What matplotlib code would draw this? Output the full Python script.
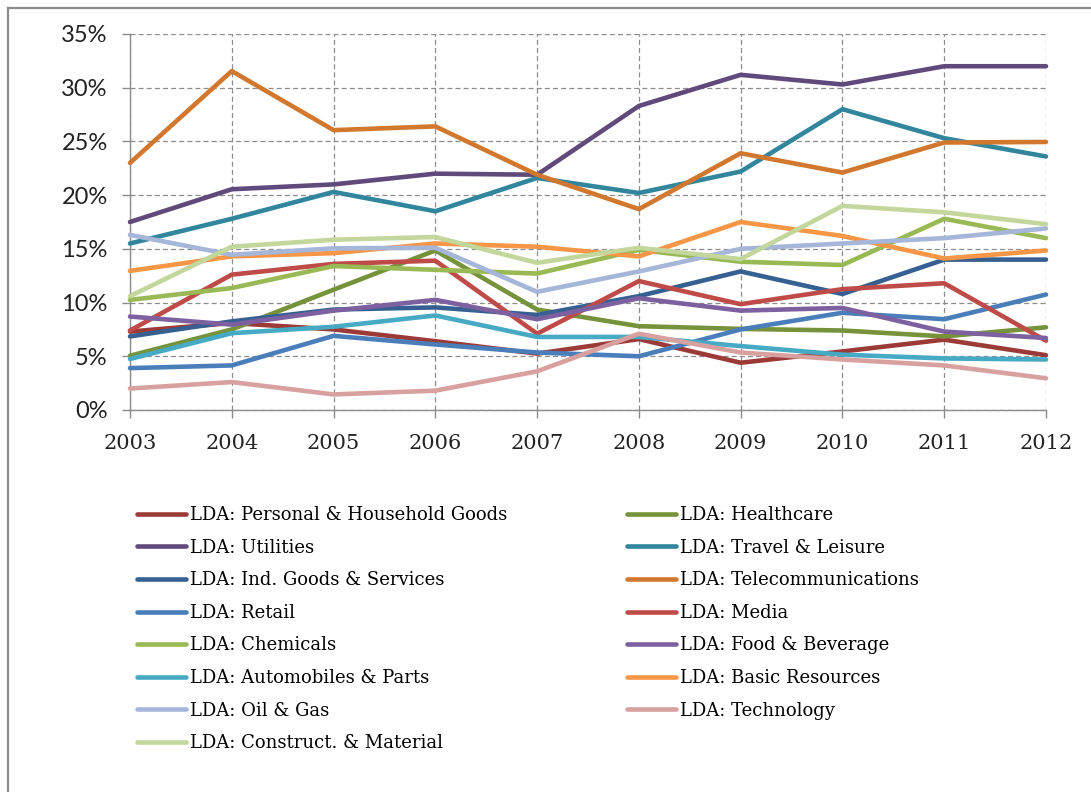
import matplotlib.pyplot as plt
from matplotlib.lines import Line2D
from matplotlib.ticker import PercentFormatter

years = [2003, 2004, 2005, 2006, 2007, 2008, 2009, 2010, 2011, 2012]

# LDA shares per sector (%)
personal_household = [7.3, 8.1, 7.5, 6.4, 5.25, 6.6, 4.4, 5.45, 6.55, 5.1]
healthcare = [5.05, 7.5, 11.2, 14.85, 9.35, 7.8, 7.55, 7.4, 6.85, 7.7]
utilities = [17.5, 20.55, 21.0, 22.0, 21.9, 28.3, 31.2, 30.3, 32.0, 32.0]
travel_leisure = [15.5, 17.8, 20.3, 18.5, 21.6, 20.2, 22.2, 28.0, 25.3, 23.6]
ind_goods = [6.85, 8.25, 9.35, 9.55, 8.85, 10.6, 12.9, 10.8, 14.0, 14.0]
telecom = [23.0, 31.55, 26.05, 26.4, 21.9, 18.7, 23.9, 22.1, 24.9, 24.95]
retail = [3.9, 4.15, 6.9, 6.1, 5.35, 5.0, 7.5, 9.05, 8.45, 10.75]
media = [7.4, 12.6, 13.6, 13.9, 7.1, 12.0, 9.85, 11.25, 11.8, 6.45]
chemicals = [10.25, 11.35, 13.4, 13.05, 12.7, 14.9, 13.8, 13.5, 17.8, 16.0]
food_beverage = [8.7, 7.95, 9.25, 10.25, 8.45, 10.4, 9.25, 9.5, 7.3, 6.7]
automobiles = [4.75, 7.15, 7.75, 8.8, 6.8, 6.8, 5.95, 5.15, 4.8, 4.7]
basic_resources = [12.95, 14.3, 14.6, 15.5, 15.2, 14.3, 17.5, 16.2, 14.1, 14.85]
oil_gas = [16.3, 14.45, 15.05, 15.1, 11.0, 12.9, 15.0, 15.5, 16.0, 16.9]
technology = [2.0, 2.6, 1.45, 1.8, 3.6, 7.1, 5.35, 4.7, 4.15, 2.95]
construct_material = [10.6, 15.2, 15.85, 16.1, 13.7, 15.1, 14.05, 19.0, 18.4, 17.3]

series = [
    ('LDA: Personal & Household Goods', personal_household, '#9b3a37'),
    ('LDA: Healthcare', healthcare, '#76933c'),
    ('LDA: Utilities', utilities, '#604a7b'),
    ('LDA: Travel & Leisure', travel_leisure, '#31859c'),
    ('LDA: Ind. Goods & Services', ind_goods, '#376092'),
    ('LDA: Telecommunications', telecom, '#d2782e'),
    ('LDA: Retail', retail, '#4a7ebb'),
    ('LDA: Media', media, '#be4b48'),
    ('LDA: Chemicals', chemicals, '#98b954'),
    ('LDA: Food & Beverage', food_beverage, '#7d60a0'),
    ('LDA: Automobiles & Parts', automobiles, '#46aac5'),
    ('LDA: Basic Resources', basic_resources, '#f79646'),
    ('LDA: Oil & Gas', oil_gas, '#a5b6d9'),
    ('LDA: Technology', technology, '#d9a0a0'),
    ('LDA: Construct. & Material', construct_material, '#c3d69b'),
]

fig = plt.figure(figsize=(10.91, 7.92), dpi=100)
ax = fig.add_axes([130 / 1091, 1 - 410 / 792, 916 / 1091, 376 / 792])

handles = []
for label, values, color in series:
    line, = ax.plot(years, values, color=color, lw=3.3, label=label,
                    solid_capstyle='round', clip_on=False, zorder=3)
    handles.append(line)

ax.set_xlim(2003, 2012)
ax.set_ylim(0, 35)
ax.set_xticks(years)
ax.set_yticks(range(0, 36, 5))
ax.yaxis.set_major_formatter(PercentFormatter(decimals=0))

ax.grid(True, color='#8c8c8c', linestyle=(0, (4, 2.5)), linewidth=0.9, zorder=0)
ax.set_axisbelow(True)
for side in ['top', 'right']:
    ax.spines[side].set_visible(False)
for side in ['left', 'bottom']:
    ax.spines[side].set_color('#8c8c8c')
    ax.spines[side].set_linewidth(1.0)

ax.tick_params(axis='both', direction='out', length=6, color='#8c8c8c', width=1.0)
ax.tick_params(axis='y', pad=10)
ax.tick_params(axis='x', pad=11)
for t in ax.get_yticklabels():
    t.set_fontfamily('Lato')
    t.set_fontsize(17)
    t.set_color('#222222')
for t in ax.get_xticklabels():
    t.set_fontfamily('DejaVu Serif')
    t.set_fontsize(15)
    t.set_color('#222222')

# legend in two columns, filled row by row
legend_kw = dict(frameon=False, handlelength=2.7, handletextpad=0.25,
                 labelspacing=0.81, borderaxespad=0, borderpad=0,
                 prop={'family': 'DejaVu Serif', 'size': 13})
leg1 = fig.legend(handles=handles[0::2], loc='upper left',
                  bbox_to_anchor=(137 / 1091, 1 - 506 / 792), **legend_kw)
leg2 = fig.legend(handles=handles[1::2], loc='upper left',
                  bbox_to_anchor=(627 / 1091, 1 - 506 / 792), **legend_kw)

# outer frame on left and top
fig.add_artist(Line2D([8 / 1091, 8 / 1091], [0, 1 - 8 / 792],
                      transform=fig.transFigure, color='#8c8c8c', lw=1.6))
fig.add_artist(Line2D([8 / 1091, 1], [1 - 8 / 792, 1 - 8 / 792],
                      transform=fig.transFigure, color='#8c8c8c', lw=1.6))

fig.savefig('out.png', dpi=100)
